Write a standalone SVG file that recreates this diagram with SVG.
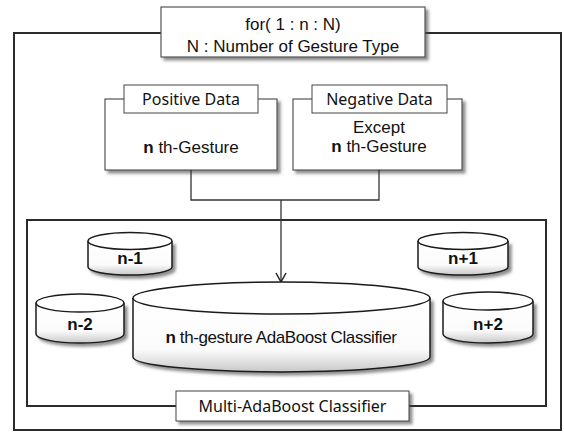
<svg xmlns="http://www.w3.org/2000/svg" width="564" height="433" viewBox="0 0 564 433">
<style>
.frame{fill:none;stroke:#2b2b2b;stroke-width:2}
.box{fill:#fff;stroke:#555;stroke-width:1.2}
.lbl{fill:#fff;stroke:#444;stroke-width:1}
.conn{fill:none;stroke:#333;stroke-width:1.3}
.t1{font-family:"Liberation Sans",Arial,sans-serif;font-size:17px;fill:#111;text-anchor:middle}
.t2{font-family:"Noto Sans","Open Sans",sans-serif;font-size:16px;fill:#111;text-anchor:middle}
.tb{font-family:"Liberation Sans",Arial,sans-serif;font-size:17px;font-weight:bold;fill:#111;text-anchor:middle}
.cyl{fill:url(#cg);stroke:#1a1a1a;stroke-width:1.5}
.top{fill:#fff;stroke:#1a1a1a;stroke-width:1.5}
</style>
<defs>
<filter id="sh" x="-10%" y="-10%" width="130%" height="140%">
<feDropShadow dx="3" dy="3" stdDeviation="1.8" flood-color="#444" flood-opacity="0.6"/>
</filter>
<linearGradient id="cg" x1="0" y1="0" x2="0" y2="1">
<stop offset="0" stop-color="#fff"/>
<stop offset="0.7" stop-color="#fbfbfb"/>
<stop offset="1" stop-color="#c8c8c8"/>
</linearGradient>
<marker id="ar" markerWidth="12" markerHeight="12" refX="10" refY="6" orient="auto" markerUnits="userSpaceOnUse">
<path d="M1,1 L10,6 L1,11" fill="none" stroke="#222" stroke-width="1.5"/>
</marker>
</defs>

<g id="outer-frame">
<rect class="frame" x="14" y="33" width="547" height="397"/>
</g>

<g id="title">
<rect class="box" x="161" y="7" width="264" height="50" filter="url(#sh)"/>
<text class="t1" x="293" y="30" font-size="18">for( 1 : n : N)</text>
<text class="t1" x="293" y="52" font-size="18">N : Number of Gesture Type</text>
</g>

<g id="positive">
<rect class="box" x="105" y="99" width="172" height="71" filter="url(#sh)"/>
<rect class="lbl" x="124" y="85" width="134" height="28"/>
<text class="t2" x="191" y="105">Positive Data</text>
<text class="t1" x="191" y="153"><tspan font-weight="bold">n</tspan> th-Gesture</text>
</g>

<g id="negative">
<rect class="box" x="293" y="99" width="169" height="71" filter="url(#sh)"/>
<rect class="lbl" x="312" y="85" width="135" height="28"/>
<text class="t2" x="379.5" y="105">Negative Data</text>
<text class="t1" x="379" y="133">Except</text>
<text class="t1" x="379" y="152"><tspan font-weight="bold">n</tspan> th-Gesture</text>
</g>

<g id="inner-frame">
<rect class="frame" x="27" y="220" width="519" height="186"/>
</g>

<g id="connectors">
<path class="conn" d="M191,170 V200 H379 V170"/>
<path class="conn" d="M281,200 V282" marker-end="url(#ar)"/>
</g>

<g id="cyl-n-1">
<path class="cyl" d="M88,241 V267 A42,8 0 0 0 172,267 V241" filter="url(#sh)"/>
<ellipse class="top" cx="130" cy="241" rx="42" ry="8.5"/>
<text class="tb" x="130" y="264">n-1</text>
</g>

<g id="cyl-n-2">
<path class="cyl" d="M36,303 V334 A44,9 0 0 0 124,334 V303" filter="url(#sh)"/>
<ellipse class="top" cx="80" cy="303" rx="44" ry="9"/>
<text class="tb" x="80" y="330">n-2</text>
</g>

<g id="cyl-n+1">
<path class="cyl" d="M418,241 V267 A45,8 0 0 0 508,267 V241" filter="url(#sh)"/>
<ellipse class="top" cx="463" cy="241" rx="45" ry="8.5"/>
<text class="tb" x="463" y="264">n+1</text>
</g>

<g id="cyl-n+2">
<path class="cyl" d="M443,301 V334 A45,9 0 0 0 533,334 V301" filter="url(#sh)"/>
<ellipse class="top" cx="488" cy="301" rx="45" ry="9"/>
<text class="tb" x="488" y="330">n+2</text>
</g>

<g id="cyl-main">
<path class="cyl" d="M133,298 V357 A148.5,15 0 0 0 430,357 V298" filter="url(#sh)"/>
<ellipse class="top" cx="281.5" cy="298" rx="148.5" ry="16"/>
<text class="t1" x="281" y="343" font-size="18.5" letter-spacing="-0.4"><tspan font-weight="bold">n</tspan> th-gesture AdaBoost Classifier</text>
</g>

<g id="multi-label">
<rect class="lbl" x="176" y="391" width="233" height="30" filter="url(#sh)"/>
<text class="t2" x="292.5" y="412" font-size="17">Multi-AdaBoost Classifier</text>
</g>
</svg>
